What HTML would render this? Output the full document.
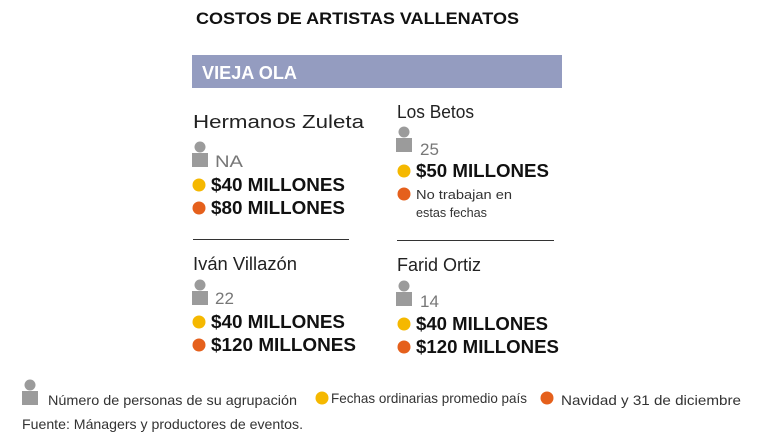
<!DOCTYPE html>
<html><head><meta charset="utf-8"><style>html,body{margin:0;padding:0;background:#fff}svg{display:block}</style></head>
<body>
<svg width="760" height="440" xmlns="http://www.w3.org/2000/svg" font-family="Liberation Sans, sans-serif">
<defs>
<g id="p"><circle cx="8" cy="5" r="5.5" fill="#9b9b9b"/><rect x="0" y="11" width="16" height="14" fill="#9b9b9b"/></g>
</defs>
<text x="196" y="24" font-size="17" font-weight="bold" fill="#111" textLength="323" lengthAdjust="spacingAndGlyphs">COSTOS DE ARTISTAS VALLENATOS</text>
<rect x="192" y="55" width="370" height="33" fill="#949cc0"/>
<text x="202" y="79" font-size="18" font-weight="bold" fill="#fff" textLength="95" lengthAdjust="spacingAndGlyphs">VIEJA OLA</text>

<g fill="#222" font-size="18">
<text x="193" y="128" textLength="171" lengthAdjust="spacingAndGlyphs">Hermanos Zuleta</text>
<text x="397" y="118" textLength="77" lengthAdjust="spacingAndGlyphs">Los Betos</text>
<text x="193" y="270" textLength="104" lengthAdjust="spacingAndGlyphs">Iván Villazón</text>
<text x="397" y="271" textLength="84" lengthAdjust="spacingAndGlyphs">Farid Ortiz</text>
</g>

<use href="#p" x="192" y="142"/>
<use href="#p" x="396" y="127"/>
<use href="#p" x="192" y="280"/>
<use href="#p" x="396" y="281"/>
<g fill="#777" font-size="17">
<text x="215" y="167" textLength="28" lengthAdjust="spacingAndGlyphs">NA</text>
<text x="420" y="155">25</text>
<text x="215" y="304">22</text>
<text x="420" y="307">14</text>
</g>

<g fill="#f5b800"><circle cx="199" cy="185" r="6.5"/><circle cx="404" cy="171" r="6.5"/><circle cx="199" cy="322" r="6.5"/><circle cx="404" cy="324" r="6.5"/><circle cx="322" cy="398" r="6.5"/></g>
<g fill="#e5601c"><circle cx="199" cy="208" r="6.5"/><circle cx="404" cy="194" r="6.5"/><circle cx="199" cy="345" r="6.5"/><circle cx="404" cy="347" r="6.5"/><circle cx="547" cy="398" r="6.5"/></g>

<g fill="#111" font-size="18" font-weight="bold">
<text x="211" y="191" textLength="134" lengthAdjust="spacingAndGlyphs">$40 MILLONES</text>
<text x="211" y="214" textLength="134" lengthAdjust="spacingAndGlyphs">$80 MILLONES</text>
<text x="416" y="177" textLength="133" lengthAdjust="spacingAndGlyphs">$50 MILLONES</text>
<text x="211" y="328" textLength="134" lengthAdjust="spacingAndGlyphs">$40 MILLONES</text>
<text x="211" y="351" textLength="145" lengthAdjust="spacingAndGlyphs">$120 MILLONES</text>
<text x="416" y="330" textLength="132" lengthAdjust="spacingAndGlyphs">$40 MILLONES</text>
<text x="416" y="353" textLength="143" lengthAdjust="spacingAndGlyphs">$120 MILLONES</text>
</g>
<g fill="#333" font-size="13">
<text x="416" y="199" textLength="96" lengthAdjust="spacingAndGlyphs">No trabajan en</text>
<text x="416" y="217" textLength="71" lengthAdjust="spacingAndGlyphs">estas fechas</text>
</g>

<line x1="193" y1="239.5" x2="349" y2="239.5" stroke="#333" stroke-width="1"/>
<line x1="397" y1="240.5" x2="554" y2="240.5" stroke="#333" stroke-width="1"/>

<use href="#p" x="22" y="380"/>
<g fill="#333" font-size="14">
<text x="48" y="405" textLength="249" lengthAdjust="spacingAndGlyphs">Número de personas  de su agrupación</text>
<text x="331" y="403" textLength="196" lengthAdjust="spacingAndGlyphs">Fechas ordinarias promedio país</text>
<text x="561" y="405" textLength="180" lengthAdjust="spacingAndGlyphs">Navidad y 31 de diciembre</text>
<text x="22" y="429" textLength="281" lengthAdjust="spacingAndGlyphs">Fuente: Mánagers y productores de eventos.</text>
</g>
</svg>
</body></html>
